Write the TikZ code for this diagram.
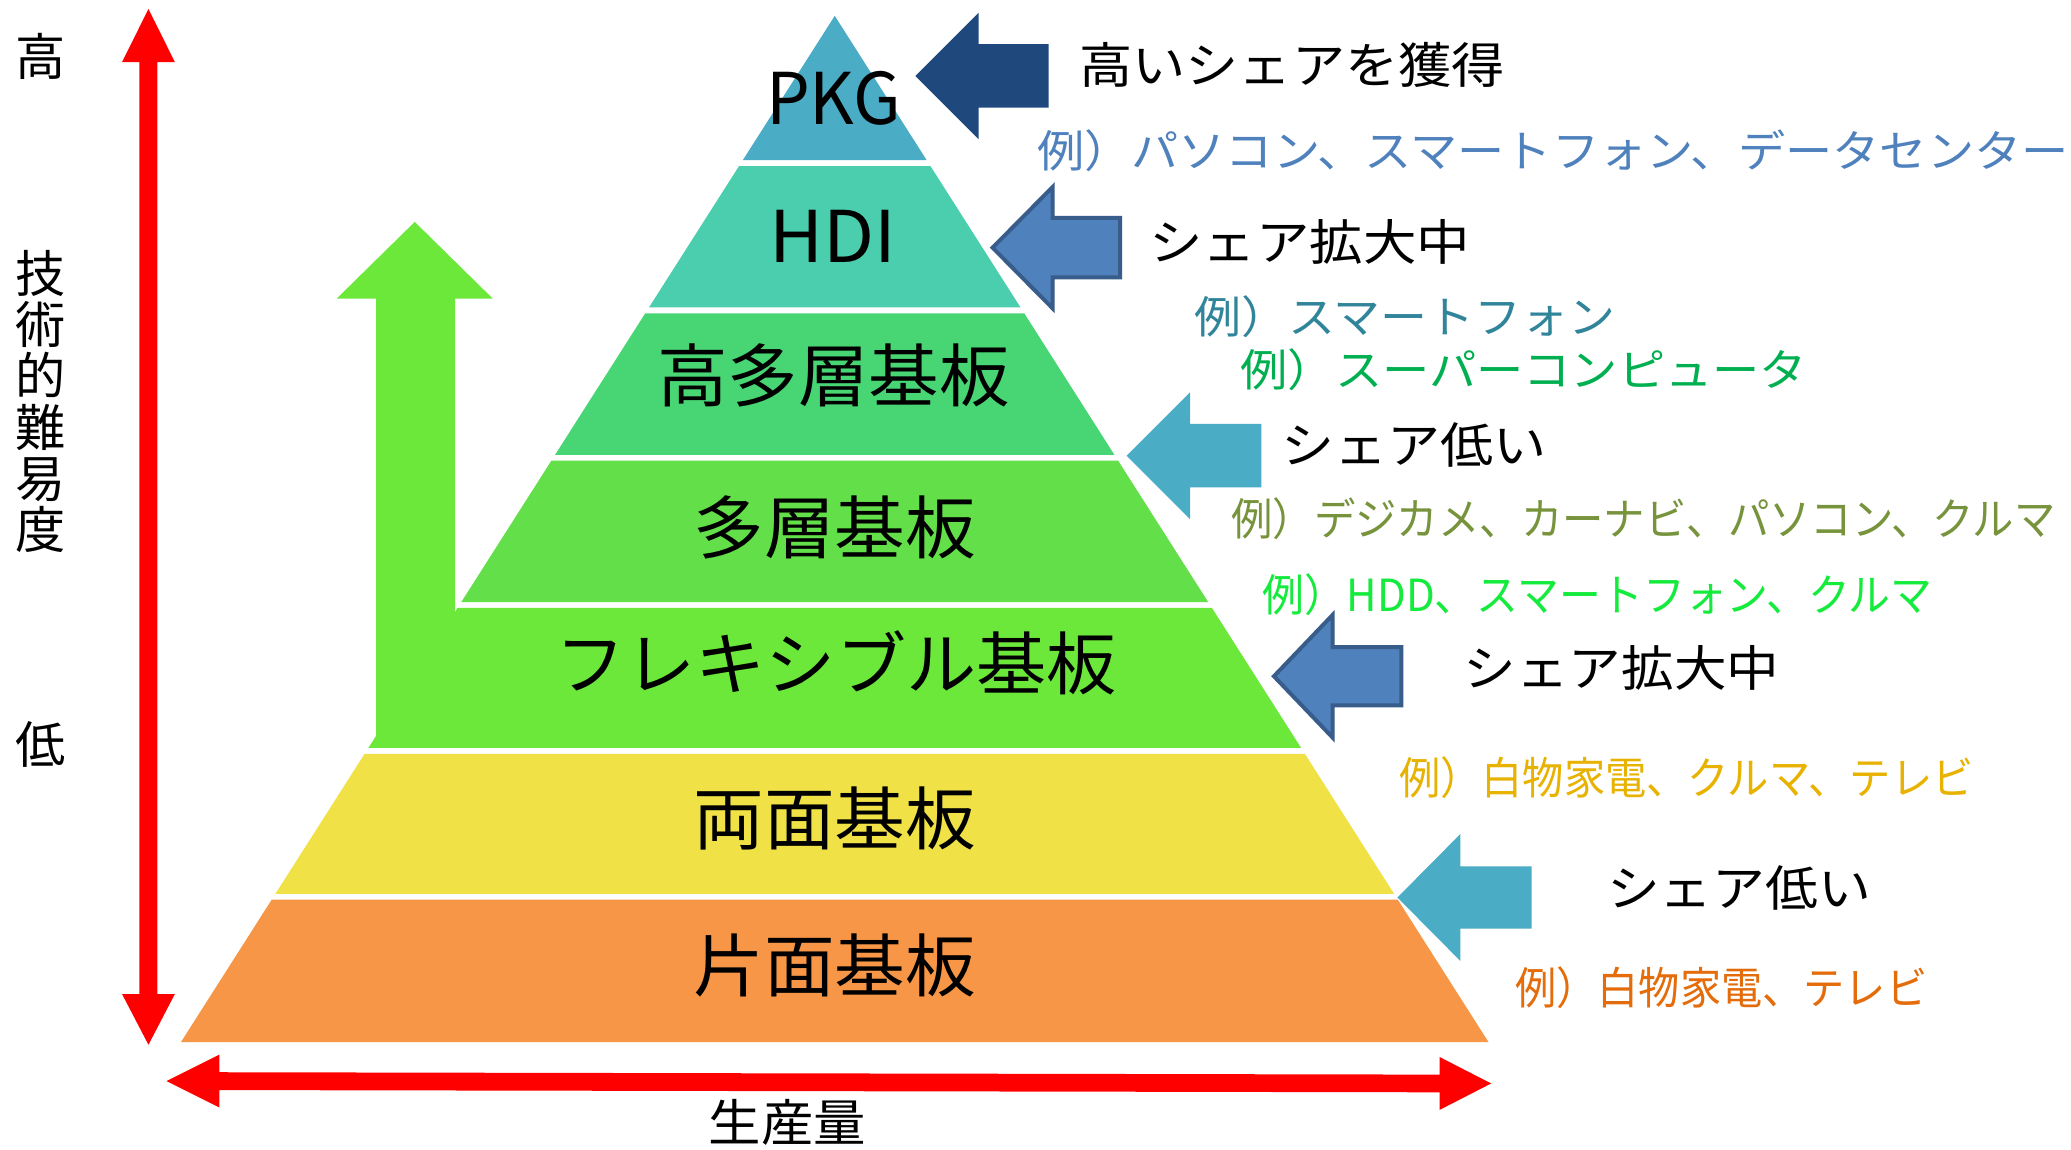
\documentclass[tikz,border=0pt]{standalone}
\usepackage{fontspec}
\usepackage{graphicx}
\setmainfont{Noto Sans CJK JP}
\definecolor{cPKG}{RGB}{75,172,198}
\definecolor{cHDI}{RGB}{74,206,174}
\definecolor{cHML}{RGB}{72,214,116}
\definecolor{cML}{RGB}{99,224,73}
\definecolor{cFLX}{RGB}{108,232,58}
\definecolor{cDS}{RGB}{240,226,70}
\definecolor{cSS}{RGB}{247,150,70}
\definecolor{navy}{RGB}{31,73,125}
\definecolor{midblue}{RGB}{79,129,189}
\definecolor{midblueB}{RGB}{56,93,138}
\definecolor{aqua}{RGB}{75,172,198}
\definecolor{exBlue}{RGB}{79,129,189}
\definecolor{exTeal}{RGB}{49,133,155}
\definecolor{exGreen}{RGB}{0,176,80}
\definecolor{exOlive}{RGB}{119,147,60}
\definecolor{exLime}{RGB}{20,235,60}
\definecolor{exGold}{RGB}{232,178,0}
\definecolor{exOrange}{RGB}{228,108,10}
\definecolor{axred}{RGB}{255,0,0}
\newcommand\fitw[2]{\resizebox{#1pt}{\height}{#2}}
\newcommand\layer[3]{\fill[#3] ({632-0.63707*(#1-12)},#1) -- ({632+0.63707*(#1-12)},#1) -- ({632+0.63707*(#2-12)},#2) -- ({632-0.63707*(#2-12)},#2) -- cycle;}
% block arrow pointing left: tipx, tipy, headbase x, head half height, shaft half height, right x, style
\newcommand\larrow[7]{\path[#7] (#1,#2) -- (#3,{#2-#4}) -- (#3,{#2-#5}) -- (#6,{#2-#5}) -- (#6,{#2+#5}) -- (#3,{#2+#5}) -- (#3,{#2+#4}) -- cycle;}
\tikzset{
  lbl/.style={inner sep=0pt, font=\fontsize{52}{60}\selectfont},
  lat/.style={inner sep=0pt, font=\fontsize{54}{60}\selectfont},
  share/.style={anchor=west, inner sep=0pt, font=\fontsize{37}{44}\selectfont},
  ex/.style={anchor=west, inner sep=0pt, font=\fontsize{33.5}{40}\selectfont},
  axis/.style={inner sep=0pt, font=\fontsize{38}{38.7}\selectfont, align=center},
  plain/.style={fill=#1, draw=none},
  framed/.style={fill=midblue, draw=midblueB, line width=3pt, line join=miter},
}
\begin{document}
\begin{tikzpicture}[x=1pt,y=-1pt]
\useasboundingbox (0,0) rectangle (1568,870);
\fill[white] (0,0) rectangle (1568,870);

% green upward arrow (merges with flexible layer)
\fill[cFLX] (314,168) -- (373,226) -- (344.5,226) -- (344.5,557.2) -- (284.7,557.2) -- (284.7,226) -- (255,226) -- cycle;

% pyramid layers
\layer{12}{121.3}{cPKG}
\layer{125.7}{232.8}{cHDI}
\layer{237.2}{344.3}{cHML}
\layer{348.7}{455.8}{cML}
\layer{460.2}{566.3}{cFLX}
\layer{570.7}{676.8}{cDS}
\layer{681.2}{789}{cSS}

% layer labels
\node[lat] (pkg) at (631,74.5) {\fitw{102}{PKG}};
\node[lat] (hdi) at (630.5,179) {\fitw{96}{HDI}};
\node[lbl] (hml) at (631,284) {\fitw{267}{高多層基板}};
\node[lbl] (ml) at (632,399) {\fitw{214}{多層基板}};
\node[lbl] (flx) at (633,502) {\fitw{425}{フレキシブル基板}};
\node[lbl] (ds) at (632,620) {\fitw{214}{両面基板}};
\node[lbl] (ss) at (632,731) {\fitw{214}{片面基板}};

% block arrows on the right
\larrow{693}{57.5}{741}{48}{24}{794}{plain=navy}
\larrow{751.5}{187.5}{797}{46}{22.5}{848}{framed}
\larrow{853}{345}{901}{48}{24}{955}{plain=aqua}
\larrow{964.5}{512}{1009}{46.5}{22}{1061}{framed}
\larrow{1058}{679.5}{1105.6}{48}{23.5}{1159.6}{plain=aqua}

% share labels
\node[share] (s1) at (817,49) {\fitw{322}{高いシェアを獲得}};
\node[share] (s2) at (870,183) {\fitw{243}{シェア拡大中}};
\node[share] (s3) at (970,337) {\fitw{201}{シェア低い}};
\node[share] (s4) at (1108,506) {\fitw{239}{シェア拡大中}};
\node[share] (s5) at (1216.5,672.6) {\fitw{200}{シェア低い}};

% example labels
\node[ex, text=exBlue] (e1) at (785,114) {\fitw{781}{例）パソコン、スマートフォン、データセンター}};
\node[ex, text=exTeal] (e2) at (904,240) {\fitw{319}{例）スマートフォン}};
\node[ex, text=exGreen] (e3) at (939,280) {\fitw{429}{例）スーパーコンピュータ}};
\node[ex, text=exOlive] (e4) at (932,392.6) {\fitw{624}{例）デジカメ、カーナビ、パソコン、クルマ}};
\node[ex, text=exLime] (e5) at (956,450) {\fitw{507}{例）HDD、スマートフォン、クルマ}};
\node[ex, text=exGold] (e6) at (1059,588.6) {\fitw{435}{例）白物家電、クルマ、テレビ}};
\node[ex, text=exOrange] (e7) at (1147,748) {\fitw{312}{例）白物家電、テレビ}};

% red axes
\fill[axred] (112.4,6.8) -- (132.4,47) -- (119.2,47) -- (119.2,752.6) -- (132.4,752.6) -- (112.4,791) -- (92.4,752.6) -- (105.6,752.6) -- (105.6,47) -- (92.4,47) -- cycle;
\fill[axred] (126,818.5) -- (166,798.5) -- (166,811.8) -- (1090,813.6) -- (1090,800.3) -- (1129,820.3) -- (1090,840.3) -- (1090,827) -- (166,825.3) -- (166,838.5) -- cycle;

% axis labels
\node[axis] (hi) at (30.5,42.5) {高};
\node[axis] (diff) at (30.5,304) {技\\術\\的\\難\\易\\度};
\node[axis] (lo) at (30.5,564) {低};
\node[inner sep=0pt, font=\fontsize{38}{46}\selectfont] (vol) at (596,850) {\fitw{119}{生産量}};
\end{tikzpicture}
\end{document}
